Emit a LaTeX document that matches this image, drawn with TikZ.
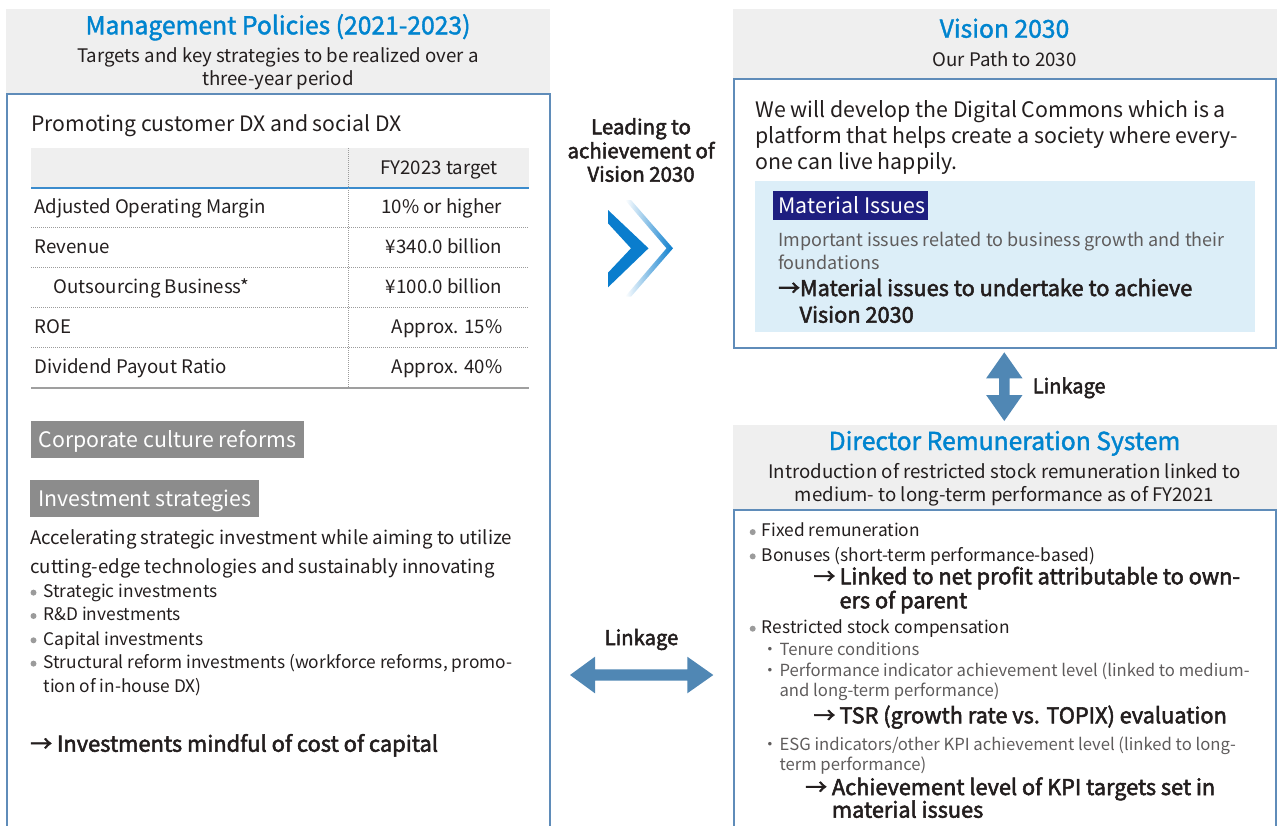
\documentclass[tikz,border=0pt]{standalone}
\usepackage{fontspec}
\setmainfont{Noto Sans CJK JP}
\newfontfamily\medfont{Noto Sans CJK JP}[FakeBold=1.6]
\newfontfamily\semifont{Noto Sans CJK JP}[FakeBold=2.4]
\definecolor{hdr}{RGB}{239,239,239}
\definecolor{frame}{RGB}{95,140,185}
\definecolor{ttl}{RGB}{0,132,207}
\definecolor{ink}{RGB}{35,30,30}
\definecolor{subink}{RGB}{95,92,92}
\definecolor{lab}{RGB}{140,140,140}
\definecolor{navy}{RGB}{30,30,128}
\definecolor{pale}{RGB}{220,238,248}
\definecolor{linkc}{RGB}{80,135,180}
\definecolor{chev}{RGB}{10,125,205}
\definecolor{tblue}{RGB}{60,140,205}
\definecolor{dotg}{RGB}{155,155,155}
\newcommand\fz[1]{\fontsize{#1}{#1}\selectfont}
\begin{document}
\begin{tikzpicture}[x=0.75pt,y=-0.75pt,
  t/.style={inner sep=0pt, anchor=base west, text=ink},
  tc/.style={inner sep=0pt, anchor=base, text=ink},
  tr/.style={inner sep=0pt, anchor=base east, text=ink},
  ttlf/.style={font=\medfont\fz{18.5pt}, text=ttl},
  subf/.style={font=\fz{14pt}},
  tabf/.style={font=\fz{14pt}},
  bulf/.style={font=\fz{13pt}},
  rbulf/.style={font=\fz{13pt}},
  lightf/.style={font=\fz{12.5pt}, text=subink},
  boldf/.style={font=\semifont\fz{16.3pt}},
  panel/.style={draw=frame, line width=1.5pt},
  rowline/.style={dotg, line width=0.75pt, dash pattern=on 0.75pt off 0.75pt},
  bdot/.style={fill=dotg}]
\useasboundingbox (0,0) rectangle (1277,825);
\clip (0,0) rectangle (1277,825);

% ---------- left panel ----------
\fill[hdr] (6,9) rectangle (550,94);
\draw[panel] (6.8,94) rectangle (549.5,840);
\node[tc,ttlf] (mpT) at (278,34.3) {Management Policies (2021-2023)};
\node[tc,subf] (mpS1) at (278,62.7) {Targets and key strategies to be realized over a};
\node[tc,subf] (mpS2) at (278,85) {three-year period};

\node[t,font=\fz{15.9pt}] (prom) at (31,131.7) {Promoting customer DX and social DX};

\fill[hdr] (31,148) rectangle (529,187.7);
\draw[tblue, line width=1.5pt] (31,187.7) -- (529,187.7);
\draw[rowline] (348,148) -- (348,388);
\foreach \yy in {227.7,267.7,307.7,347.7} \draw[rowline] (31,\yy) -- (529,\yy);
\draw[gray!75, line width=0.9pt] (31,388) -- (529,388);

\node[tc,tabf] (fy) at (439,174) {FY2023 target};
\node[t,tabf] (r1) at (34.3,213.3) {Adjusted Operating Margin};
\node[tr,tabf] (v1) at (502.5,213.3) {10\% or higher};
\node[t,tabf] (r2) at (34.3,253.3) {Revenue};
\node[tr,tabf] (v2) at (502.5,253.3) {¥340.0 billion};
\node[t,tabf] (r3) at (53.5,293.3) {Outsourcing Business*};
\node[tr,tabf] (v3) at (502.5,293.3) {¥100.0 billion};
\node[t,tabf] (r4) at (34.3,333.3) {ROE};
\node[tr,tabf] (v4) at (502.5,333.3) {Approx. 15\%};
\node[t,tabf] (r5) at (34.3,373.3) {Dividend Payout Ratio};
\node[tr,tabf] (v5) at (502.5,373.3) {Approx. 40\%};

\fill[lab] (31,421) rectangle (304,457.7);
\node[t,text=white,font=\fz{16pt}] (ccr) at (38.3,447.7) {Corporate culture reforms};
\fill[lab] (30,480) rectangle (259,516.7);
\node[t,text=white,font=\fz{16pt}] (ivs) at (38.3,506.7) {Investment strategies};

\node[t,font=\fz{14pt}] (acc1) at (30,544) {Accelerating strategic investment while aiming to utilize};
\node[t,font=\fz{14pt}] (acc2) at (30,573.3) {cutting-edge technologies and sustainably innovating};

\foreach \yy in {597.3,620.7,645,668.3} \fill[bdot] (33.5,\yy-4.7) circle[radius=3];
\node[t,bulf] (b1) at (43.3,597.3) {Strategic investments};
\node[t,bulf] (b2) at (43.3,620.7) {R\&D investments};
\node[t,bulf] (b3) at (43.3,645) {Capital investments};
\node[t,bulf] (b4) at (43.3,668.3) {Structural reform investments (workforce reforms, promo-};
\node[t,bulf] (b5) at (43.3,692.3) {tion of in-house DX)};

\node[t,font=\semifont\fz{16.4pt}] (imc) at (30,751.7) {→ Investments mindful of cost of capital};

% ---------- middle ----------
\node[tc,font=\semifont\fz{15.3pt}] (lead1) at (641,134.3) {Leading to};
\node[tc,font=\semifont\fz{15.3pt}] (lead2) at (641,158.3) {achievement of};
\node[tc,font=\semifont\fz{15.3pt}] (lead3) at (641,181.7) {Vision 2030};

\fill[chev] (608,210) -- (648.5,248.3) -- (608,287.3) -- (608,272.7) -- (631,248.3) -- (608,223.3) -- cycle;
\shade[left color=white, right color=chev] (625,200) -- (631,200) -- (673,248.3) -- (631,296.7) -- (625,296.7) -- (666.5,248.3) -- cycle;

\node[tc,font=\semifont\fz{15.2pt}] (lnkH) at (641.5,645) {Linkage};
\fill[linkc] (570,675) -- (595,656.7) -- (595,669.3) -- (687.3,669.3) -- (687.3,656.7) -- (713.3,675)
  -- (687.3,693.3) -- (687.3,680.7) -- (595,680.7) -- (595,693.3) -- cycle;

% ---------- right top panel ----------
\fill[hdr] (733,9) rectangle (1277,79);
\draw[panel] (733.8,79) rectangle (1275.5,348.3);
\node[tc,ttlf] (vT) at (1004.5,37.7) {Vision 2030};
\node[tc,subf] (vS) at (1004.5,66.7) {Our Path to 2030};
\node[t,font=\fz{16pt}] (w1) at (755,117.3) {We will develop the Digital Commons which is a};
\node[t,font=\fz{16pt}] (w2) at (755,143.6) {platform that helps create a society where every-};
\node[t,font=\fz{16pt}] (w3) at (755,169.8) {one can live happily.};
\fill[pale] (755,181) rectangle (1255,332.3);
\fill[navy] (773,191) rectangle (927.7,220);
\node[t,text=white,font=\fz{16pt}] (mi) at (778.3,213.3) {Material Issues};
\node[t,font=\fz{13.5pt},text=subink] (ii1) at (778,246) {Important issues related to business growth and their};
\node[t,font=\fz{13.5pt},text=subink] (ii2) at (778,269.3) {foundations};
\node[t,boldf] (mt1) at (778,296) {→Material issues to undertake to achieve};
\node[t,boldf] (mt2) at (799.3,322.7) {Vision 2030};

% vertical linkage
\fill[linkc] (1004.3,352.3) -- (1022.5,378.3) -- (1009.5,378.3) -- (1009.5,395) -- (1022.5,395) -- (1004.3,421)
  -- (986.1,395) -- (999.1,395) -- (999.1,378.3) -- (986.1,378.3) -- cycle;
\node[t,font=\semifont\fz{15pt}] (lnkV) at (1032.6,393.3) {Linkage};

% ---------- right bottom panel ----------
\fill[hdr] (733,425) rectangle (1277,510);
\draw[panel] (733.8,510) rectangle (1275.5,840);
\node[tc,ttlf] (dT) at (1004.5,450) {Director Remuneration System};
\node[tc,subf] (dS1) at (1004.5,478.3) {Introduction of restricted stock remuneration linked to};
\node[tc,subf] (dS2) at (1004.5,501.7) {medium- to long-term performance as of FY2021};

\foreach \yy in {536.7,561,633.3} \fill[bdot] (752.7,\yy-4.6) circle[radius=3];
\node[t,rbulf] (fx) at (761.7,536.7) {Fixed remuneration};
\node[t,rbulf] (bo) at (761.7,561) {Bonuses (short-term performance-based)};
\node[t,boldf] (ar1) at (813.3,584.3) {→};
\node[t,boldf] (ln1) at (839.3,584.3) {Linked to net profit attributable to own-};
\node[t,boldf] (ln2) at (839.3,608.3) {ers of parent};
\node[t,rbulf] (rs) at (761.7,633.3) {Restricted stock compensation};

\node[tc,lightf] (d1) at (770,655) {・};
\node[t,lightf] (tn) at (779.3,655) {Tenure conditions};
\node[tc,lightf] (d2) at (770,676) {・};
\node[t,lightf] (pi1) at (779.3,676) {Performance indicator achievement level (linked to medium-};
\node[t,lightf] (pi2) at (779.3,696.7) {and long-term performance)};
\node[t,boldf] (ar2) at (813.3,723.3) {→};
\node[t,boldf] (tsr) at (839.3,723.3) {TSR (growth rate vs. TOPIX) evaluation};
\node[tc,lightf] (d3) at (770,750) {・};
\node[t,lightf] (esg1) at (779.3,750) {ESG indicators/other KPI achievement level (linked to long-};
\node[t,lightf] (esg2) at (779.3,770.7) {term performance)};
\node[t,boldf] (ar3) at (805,795) {→};
\node[t,boldf] (ach1) at (831.7,795) {Achievement level of KPI targets set in};
\node[t,boldf] (ach2) at (831.7,817.7) {material issues};
\end{tikzpicture}
\end{document}
